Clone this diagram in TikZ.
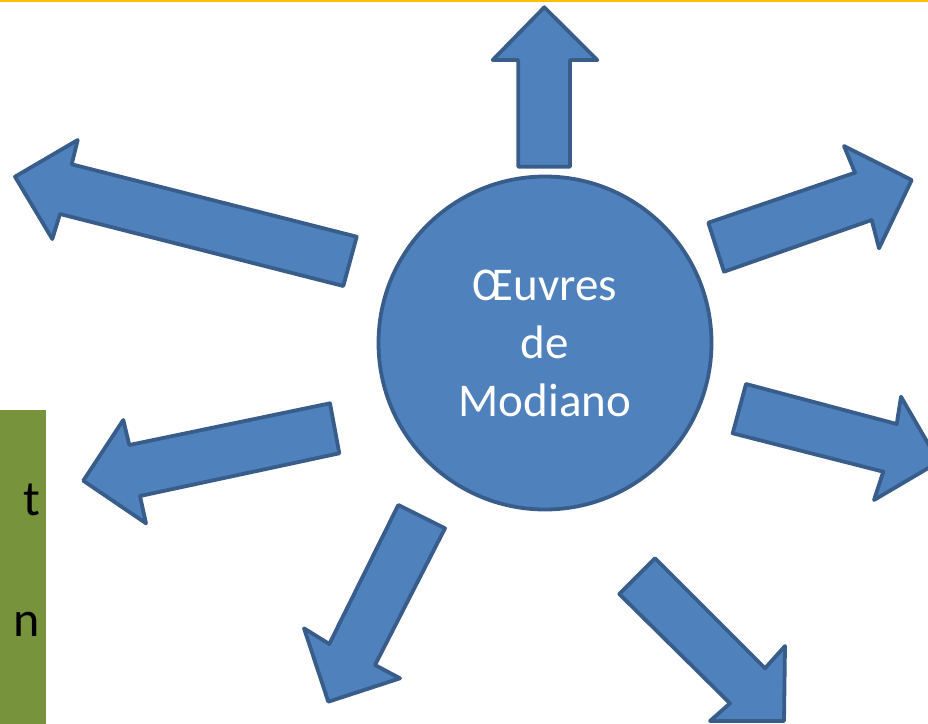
\documentclass[tikz,border=0pt]{standalone}
\usepackage{fontspec}
\setmainfont{Carlito}
\definecolor{arrowfill}{HTML}{4F81BD}
\definecolor{arrowline}{HTML}{385D8A}
\definecolor{boxgreen}{HTML}{77933C}
\definecolor{topline}{HTML}{FFC000}
\begin{document}
\begin{tikzpicture}[x=1pt,y=-1pt,
  blockarrow/.style={fill=arrowfill, draw=arrowline, line width=3.8pt, line join=round},
  hubstyle/.style={circle, fill=arrowfill, draw=arrowline, line width=3.8pt, minimum size=333pt,
    inner sep=0pt, align=center, text=white, font=\fontsize{47}{58}\selectfont},
  sidetext/.style={anchor=base east, inner sep=0pt, text=black, font=\fontsize{50}{60}\selectfont}]
\useasboundingbox (0,0) rectangle (928,723);
\clip (0,0) rectangle (928,723);
% top line
\draw[topline, line width=2pt] (0,1) -- (928,1);
% green text box (cut at the left edge)
\fill[boxgreen] (-20,410) rectangle (45.7,740);
\node[sidetext] (tt) at (40,515) {t};
\node[sidetext] (tn) at (40,636) {n};
% arrows
\draw[blockarrow] (544.3,7.3) -- (597.3,60) -- (570,60) -- (570,166.7) -- (518.3,166.7) -- (518.3,60) -- (492.7,60) -- cycle;
\draw[blockarrow] (15,176.7) -- (77.7,140) -- (71.7,164.3) -- (356.7,236.7) -- (343.3,286) -- (60,214) -- (52.3,239) -- cycle;
\draw[blockarrow] (724,271.7) -- (708.3,222.7) -- (855,172.7) -- (844,146) -- (911.7,180) -- (879,248.3) -- (871.7,220) -- cycle;
\draw[blockarrow] (746,384) -- (896.7,424) -- (901,396.7) -- (938.7,461.9) -- (874,500) -- (883.3,471.7) -- (732.7,433.3) -- cycle;
\draw[blockarrow] (330,403.3) -- (339.3,453.3) -- (140,496) -- (146,523.3) -- (83.3,480.7) -- (123.3,420) -- (129.3,445) -- cycle;
\draw[blockarrow] (398.3,505) -- (445,528.3) -- (375,665) -- (400,678.3) -- (328.3,701.7) -- (304,628.3) -- (329.3,644) -- cycle;
\draw[blockarrow] (655,558.3) -- (765,668.3) -- (785,646) -- (784,721) -- (710,721) -- (730,703.3) -- (619.3,594) -- cycle;
% hub
\node[hubstyle] (hub) at (545,343) {Œuvres\\de\\Modiano};
\end{tikzpicture}
\end{document}
